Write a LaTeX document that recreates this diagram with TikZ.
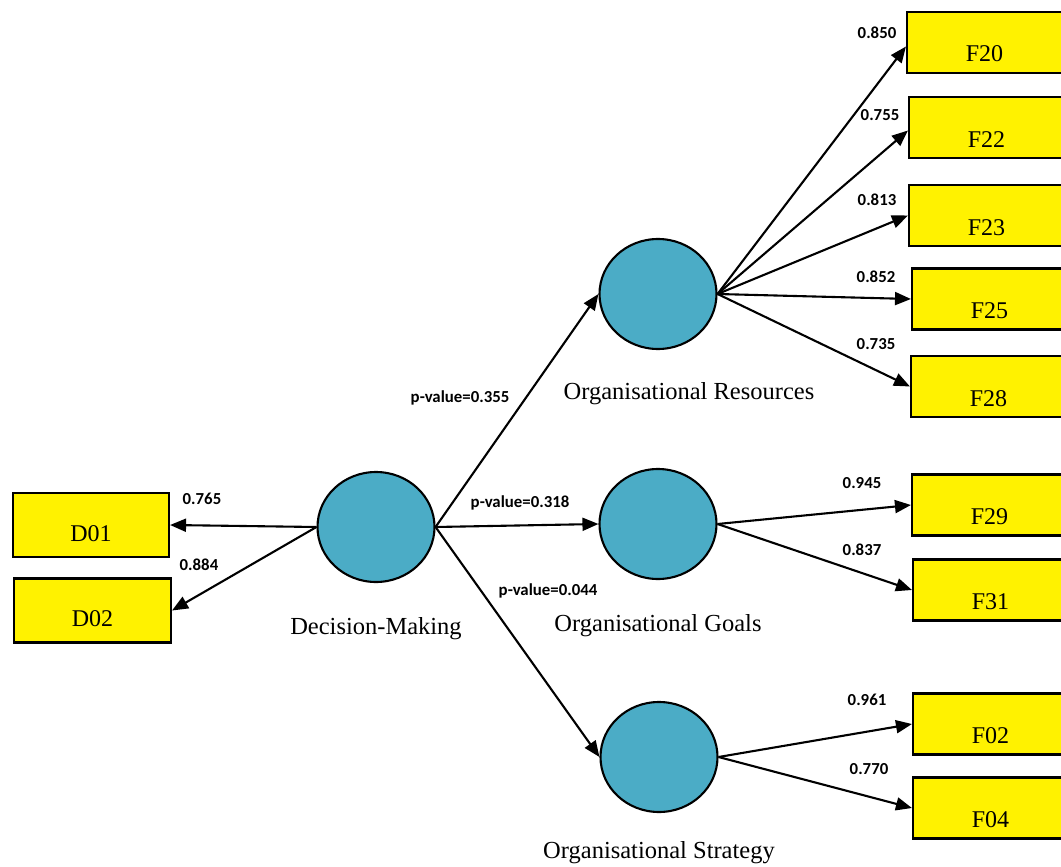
\documentclass[tikz,border=0pt]{standalone}
\usepackage{fontspec}
\setmainfont{Liberation Serif}
\newfontfamily\lblfont{Carlito}
\usetikzlibrary{shapes.geometric,arrows.meta}
\tikzset{
  latent/.style={ellipse, draw=black, line width=2.1pt, fill=cirfill, minimum width=117pt, minimum height=110pt, inner sep=0pt},
  fbox/.style={rectangle, draw=black, line width=2.1pt, fill=yellow, inner sep=0pt, minimum width=155pt, text height=50pt, text depth=11pt, font=\fontsize{24}{28}\selectfont},
  dbox/.style={rectangle, draw=black, line width=2.1pt, fill=yellow, inner sep=0pt, minimum width=156pt, text height=48pt, text depth=16pt, font=\fontsize{24}{28}\selectfont},
  caption/.style={font=\fontsize{24.5}{28}\selectfont, inner sep=0pt},
  lbl/.style={font=\lblfont\bfseries\fontsize{16.8}{19}\selectfont, inner sep=0pt},
  arr/.style={line width=2.1pt, -{Triangle[length=16pt,width=13pt]}}
}
\definecolor{cirfill}{RGB}{75,172,198}
\begin{document}
\begin{tikzpicture}[x=1pt,y=-1pt]
\useasboundingbox (0,0) rectangle (1061,867);
\clip (0,0) rectangle (1061,867);
\fill[white] (0,0) rectangle (1061,867);
% latent variables
\node[latent] (DM) at (376,527) {};
\node[latent] (OR) at (658,294) {};
\node[latent] (OG) at (658,524) {};
\node[latent] (OS) at (659,757) {};
% captions
\node[caption] (cDM) at (376,629) {Decision-Making};
\node[caption] (cOR) at (689,394) {Organisational Resources};
\node[caption] (cOG) at (658,626) {Organisational Goals};
\node[caption] (cOS) at (659,853) {Organisational Strategy};
% indicator boxes
\node[dbox] (D01) at (91,525) {D01};
\node[dbox, minimum width=157pt] (D02) at (92.5,610.5) {D02};
\node[fbox] (F20) at (984.5,42.5) {F20};
\node[fbox] (F22) at (986.5,127.5) {F22};
\node[fbox] (F23) at (986.5,215.5) {F23};
\node[fbox] (F25) at (989.5,299) {F25};
\node[fbox] (F28) at (988.5,386.5) {F28};
\node[fbox] (F29) at (989.5,505) {F29};
\node[fbox] (F31) at (990.5,590) {F31};
\node[fbox] (F02) at (990.5,724) {F02};
\node[fbox] (F04) at (990.5,808) {F04};
% connectors
\draw[arr] (DM.west) -- (D01.east);
\draw[arr] (DM.west) -- (D02.east);
\draw[arr] (DM.east) -- (OR.west);
\draw[arr] (DM.east) -- (OG.west);
\draw[arr] (DM.east) -- (OS.west);
\draw[arr] (OR.east) -- ([yshift=-4pt]F20.west);
\draw[arr] (OR.east) -- ([yshift=-3pt]F22.west);
\draw[arr] (OR.east) -- (F23.west);
\draw[arr] (OR.east) -- (F25.west);
\draw[arr] (OR.east) -- (F28.west);
\draw[arr] (OG.east) -- (F29.west);
\draw[arr] (OG.east) -- (F31.west);
\draw[arr] (OS.east) -- (F02.west);
\draw[arr] (OS.east) -- (F04.west);
% labels
\node[lbl] (l1) at (877,33) {0.850};
\node[lbl] (l2) at (880,115) {0.755};
\node[lbl] (l3) at (877,200) {0.813};
\node[lbl] (l4) at (876,277) {0.852};
\node[lbl] (l5) at (876,344) {0.735};
\node[lbl] (l6) at (862,483) {0.945};
\node[lbl] (l7) at (862,550) {0.837};
\node[lbl] (l8) at (867,700) {0.961};
\node[lbl] (l9) at (869,769) {0.770};
\node[lbl] (l10) at (202,499) {0.765};
\node[lbl] (l11) at (199,565) {0.884};
\node[lbl] (p1) at (460,398) {p-value=0.355};
\node[lbl] (p2) at (520,503) {p-value=0.318};
\node[lbl] (p3) at (548,591) {p-value=0.044};
\end{tikzpicture}
\end{document}
